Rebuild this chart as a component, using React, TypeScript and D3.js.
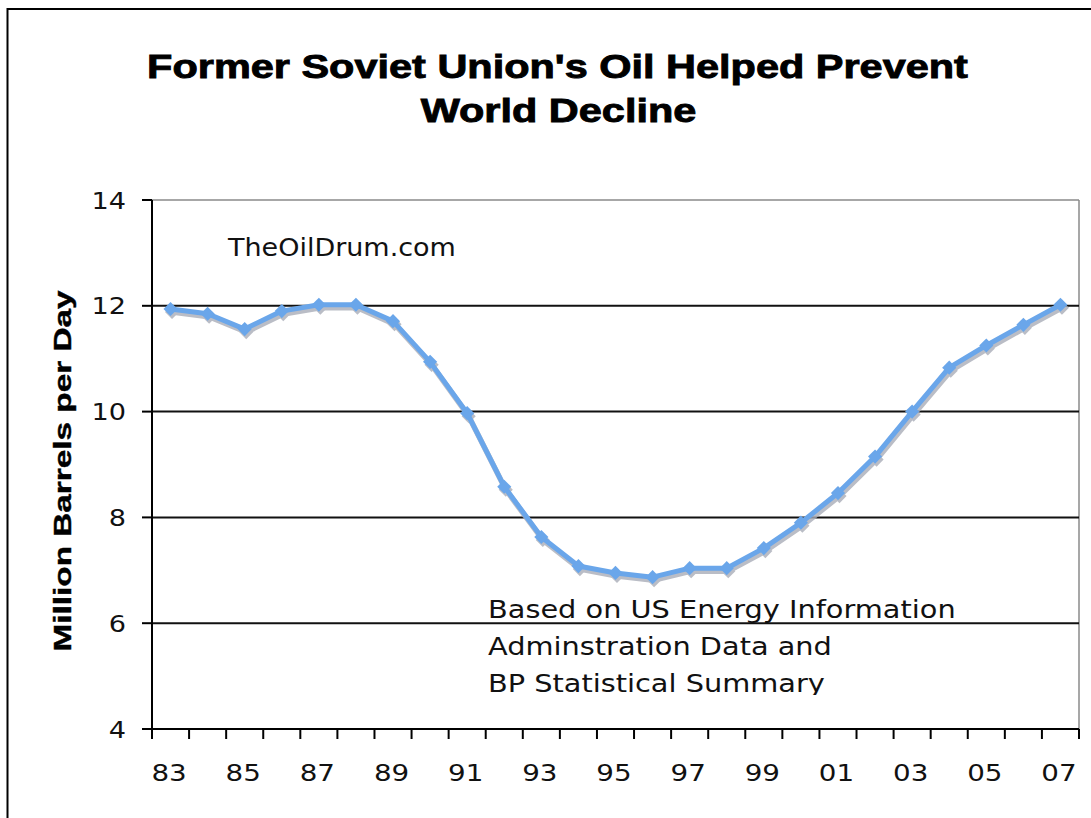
import React from "react";
import * as d3 from "d3";

const years = ["83","84","85","86","87","88","89","90","91","92","93","94","95","96","97","98","99","00","01","02","03","04","05","06","07"];
const production = [11.94, 11.85, 11.56, 11.9, 12.02, 12.02, 11.71, 10.94, 9.97, 8.58, 7.63, 7.08, 6.95, 6.87, 7.04, 7.04, 7.42, 7.9, 8.46, 9.15, 10.0, 10.83, 11.25, 11.64, 12.02];
const yTicks = [4, 6, 8, 10, 12, 14];
const gridValues = [6, 8, 10, 12];
const titleLines = ["Former Soviet Union's Oil Helped Prevent", "World Decline"];
const sourceLines = ["Based on US Energy Information", "Adminstration Data and", "BP Statistical Summary"];

const W = 1091, H = 818;
const left = 152, right = 1079, top = 200, bottom = 729;
const BLUE = "#6aa6ea";
const SHADOW = "#a9adb8";

export default function App() {
  const x = d3.scaleBand<string>().domain(years).range([left, right]).padding(0);
  const y = d3.scaleLinear().domain([4, 14]).range([bottom, top]);
  const cx = (d: string) => (x(d) as number) + x.bandwidth() / 2;
  const line = d3.line<number>().x((_, i) => cx(years[i])).y((v) => y(v));
  const path = line(production) || "";
  const marker = d3.symbol().type(d3.symbolSquare).size(100)() || "";
  const boundaries = years.map((d) => x(d) as number).concat([right]);
  const tickFont = "'DejaVu Sans', Verdana, sans-serif";

  return (
    <div style={{ position: "absolute", left: 0, top: 0 }}>
      <svg width={W} height={H} style={{ display: "block", background: "#fff" }}>
        <defs>
          <clipPath id="srcclip">
            <rect x={480} y={590} width={520} height={105} />
          </clipPath>
        </defs>
        {/* outer frame */}
        <rect x={7.5} y={9} width={W + 20} height={H + 20} fill="#fff" stroke="#000" strokeWidth={2} />

        {/* title */}
        <g fontFamily="'Liberation Sans', Arial, sans-serif" fontWeight="bold" fontSize={34} fill="#000" stroke="#000" strokeWidth={0.9}>
          <text transform={`translate(557.5,78) scale(1.22,1)`} textAnchor="middle">{titleLines[0]}</text>
          <text transform={`translate(558.5,122) scale(1.22,1)`} textAnchor="middle">{titleLines[1]}</text>
        </g>

        {/* plot area border */}
        <line x1={left} x2={right} y1={top} y2={top} stroke="#8a8a8a" strokeWidth={1.5} />
        <line x1={right} x2={right} y1={top} y2={bottom} stroke="#8a8a8a" strokeWidth={1.5} />

        {/* gridlines */}
        {gridValues.map((v) => (
          <line key={v} x1={left} x2={right} y1={y(v)} y2={y(v)} stroke="#111" strokeWidth={2} />
        ))}

        {/* y axis */}
        <line x1={left} x2={left} y1={top} y2={bottom} stroke="#000" strokeWidth={2} />
        {yTicks.map((v) => (
          <g key={v}>
            <line x1={left - 10} x2={left} y1={y(v)} y2={y(v)} stroke="#000" strokeWidth={2} />
            <text transform={`translate(126,${y(v) + 8.5}) scale(1.18,1)`} textAnchor="end" fontFamily={tickFont} fontSize={23} fill="#111">{v}</text>
          </g>
        ))}

        {/* x axis */}
        <line x1={left} x2={right} y1={bottom} y2={bottom} stroke="#000" strokeWidth={2} />
        {boundaries.map((b, i) => (
          <line key={i} x1={b} x2={b} y1={bottom} y2={bottom + 10} stroke="#000" strokeWidth={2} />
        ))}
        {years.map((d, i) => i % 2 === 0 ? (
          <text key={d} transform={`translate(${cx(d) - 1.5},781) scale(1.18,1)`} textAnchor="middle" fontFamily={tickFont} fontSize={23.5} fill="#111">{d}</text>
        ) : null)}

        {/* y label */}
        <text transform={`translate(70.5,471) rotate(-90) scale(1.36,1)`} textAnchor="middle" fontFamily="'Liberation Sans', Arial, sans-serif" fontWeight="bold" fontSize={24.5} fill="#000" stroke="#000" strokeWidth={0.4}>Million Barrels per Day</text>

        {/* watermark */}
        <text transform={`translate(228,256) scale(1.08,1)`} fontFamily={tickFont} fontSize={25} fill="#111">TheOilDrum.com</text>

        {/* source note */}
        <g clipPath="url(#srcclip)">
          {sourceLines.map((s, i) => (
            <text key={i} transform={`translate(488,${618 + i * 37}) scale(1.2,1)`} fontFamily={tickFont} fontSize={24} fill="#111">{s}</text>
          ))}
        </g>

        {/* series shadow */}
        <g transform="translate(1.5,3)" opacity={0.8}>
          <path d={path} fill="none" stroke={SHADOW} strokeWidth={5.5} strokeLinejoin="round" />
          {production.map((v, i) => (
            <path key={i} d={marker} transform={`translate(${cx(years[i])},${y(v)}) rotate(45)`} fill={SHADOW} />
          ))}
        </g>
        {/* series */}
        <path d={path} fill="none" stroke={BLUE} strokeWidth={5} strokeLinejoin="round" />
        {production.map((v, i) => (
          <path key={i} d={marker} transform={`translate(${cx(years[i])},${y(v)}) rotate(45)`} fill={BLUE} />
        ))}
      </svg>
    </div>
  );
}
